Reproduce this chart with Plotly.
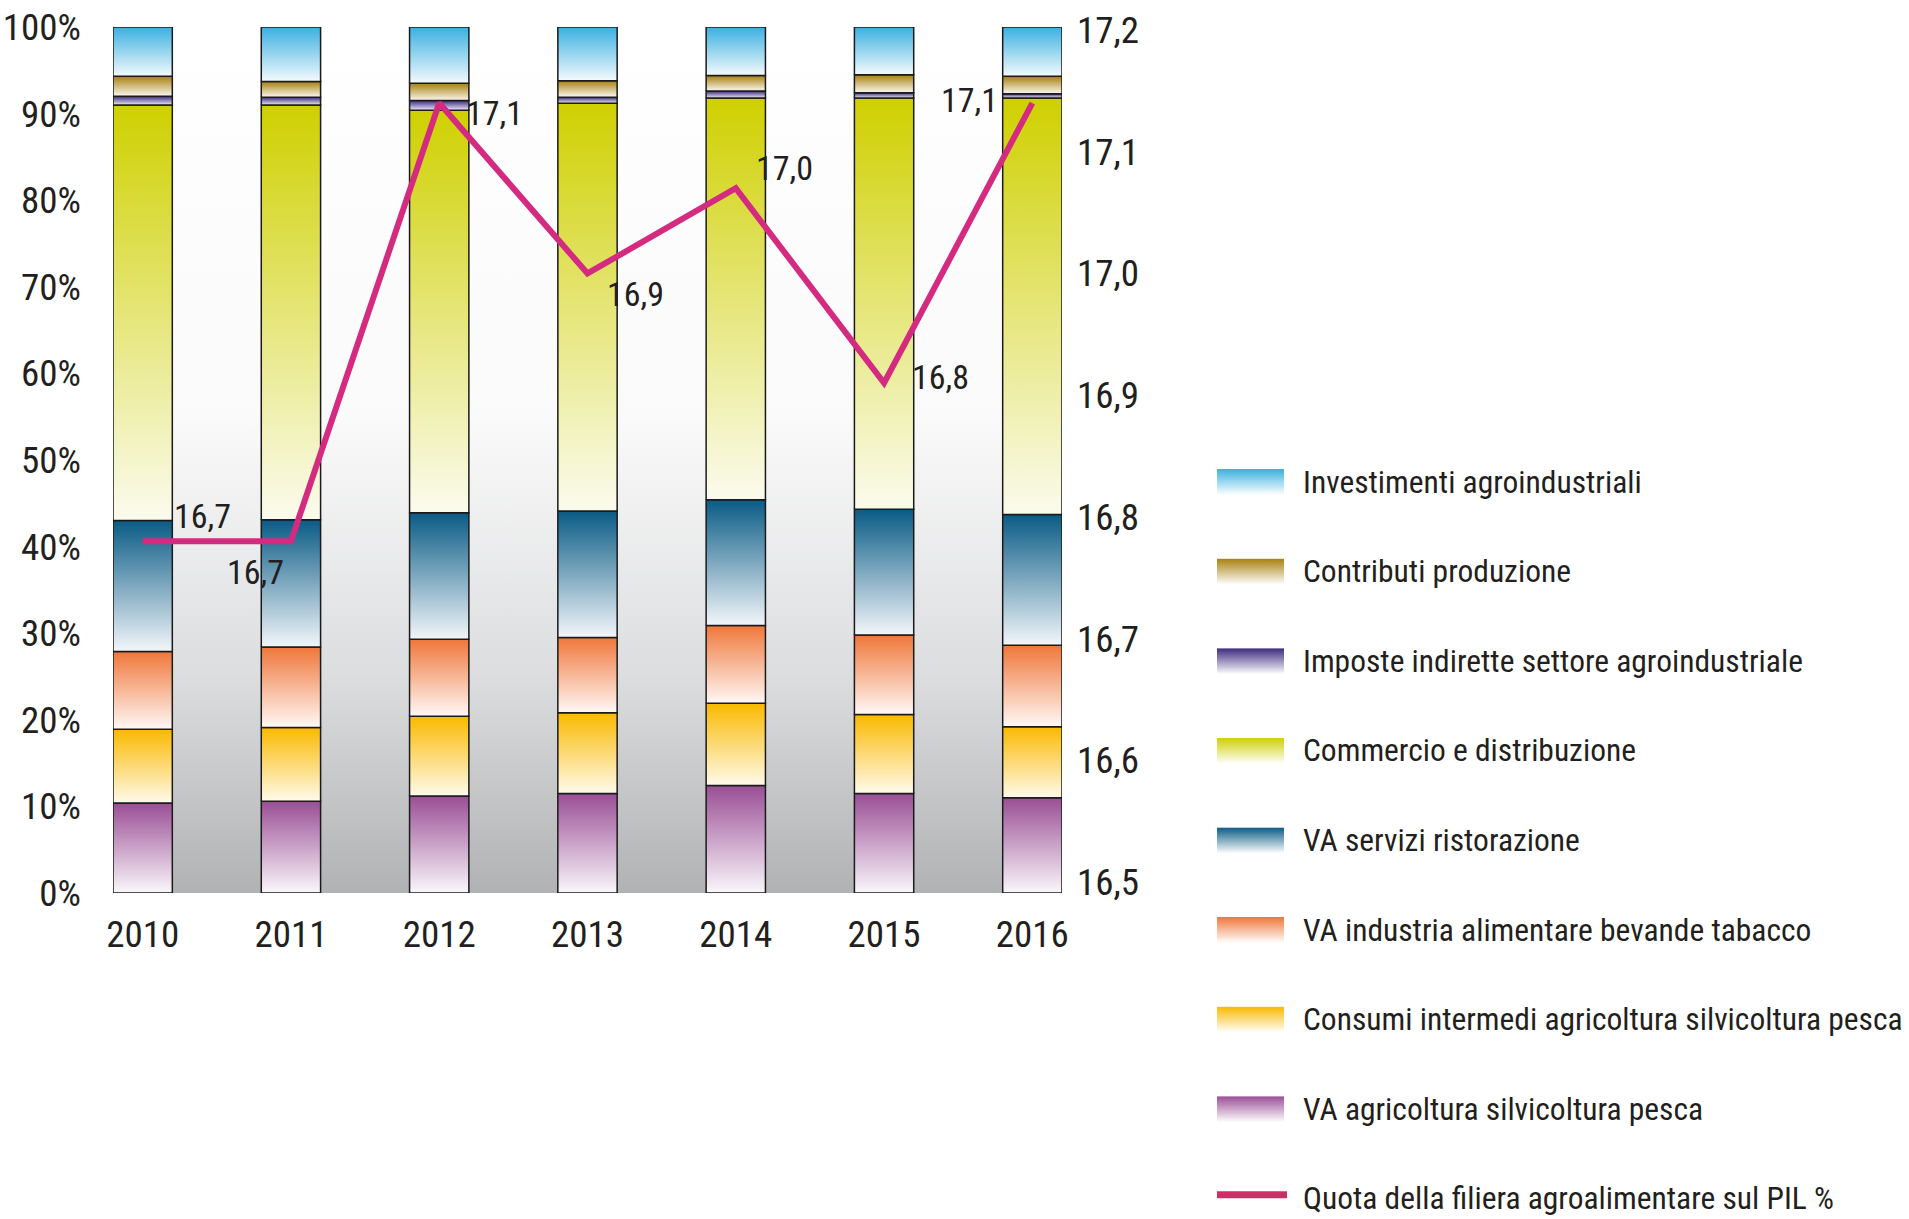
"""Filiera agroalimentare: composizione (%) e quota sul PIL."""

import base64

import plotly.graph_objects as go

years = ["2010", "2011", "2012", "2013", "2014", "2015", "2016"]

# stacked shares, bottom to top (% of total)
va_agricoltura = [10.4, 10.6, 11.2, 11.5, 12.4, 11.5, 11.0]
consumi_intermedi = [8.5, 8.5, 9.2, 9.3, 9.5, 9.1, 8.2]
va_industria = [9.0, 9.3, 8.9, 8.7, 9.0, 9.2, 9.4]
va_ristorazione = [15.1, 14.7, 14.6, 14.6, 14.5, 14.5, 15.1]
commercio = [48.0, 47.9, 46.5, 47.1, 46.4, 47.5, 48.1]
imposte = [1.0, 0.9, 1.1, 0.7, 0.8, 0.6, 0.5]
contributi = [2.3, 1.8, 2.0, 1.9, 1.8, 2.1, 2.0]
investimenti = [5.7, 6.3, 6.5, 6.2, 5.6, 5.5, 5.7]

# share of GDP (right axis) and the labels printed next to the line
quota_pil = [16.78, 16.78, 17.14, 17.00, 17.07, 16.91, 17.14]
quota_labels = ["16,7", "16,7", "17,1", "16,9", "17,0", "16,8", "17,1"]
quota_name = "Quota della filiera agroalimentare sul PIL %"

left_ticks = list(range(0, 101, 10))
right_ticks = [16.5, 16.6, 16.7, 16.8, 16.9, 17.0, 17.1, 17.2]

series = [
    ("VA agricoltura silvicoltura pesca", va_agricoltura, "#9a4e95", "#faf7fb"),
    ("Consumi intermedi agricoltura silvicoltura pesca", consumi_intermedi, "#fab900", "#fffaeb"),
    ("VA industria alimentare bevande tabacco", va_industria, "#ef773a", "#fff8f6"),
    ("VA servizi ristorazione", va_ristorazione, "#0a5b85", "#f2f6fa"),
    ("Commercio e distribuzione", commercio, "#cfd000", "#fbfbee"),
    ("Imposte indirette settore agroindustriale", imposte, "#3b2a7f", "#ece8f4"),
    ("Contributi produzione", contributi, "#a7800f", "#fbf8f0"),
    ("Investimenti agroindustriali", investimenti, "#3ab0e0", "#f4fafd"),
]

W, H = 1909, 1219
FONT = "Liberation Sans Narrow, Roboto Condensed, Arial Narrow, DejaVu Sans, sans-serif"
TEXT = "#231f20"
LINE = "#d42a80"
BAR_W = 0.4
label_shift = [(60, 25), (-35, -31), (55, -10), (48, -21), (49, 20), (56, 6), (-63, 3)]


def gradient_uri(stops):
    """Vertical gradient (top -> bottom) as an SVG data uri."""
    st = "".join(f'<stop offset="{o}" stop-color="{c}"/>' for o, c in stops)
    svg = (
        '<svg xmlns="http://www.w3.org/2000/svg" width="100" height="100" preserveAspectRatio="none">'
        f'<defs><linearGradient id="g" x1="0" y1="0" x2="0" y2="1">{st}</linearGradient></defs>'
        '<rect width="100" height="100" fill="url(#g)"/></svg>'
    )
    return "data:image/svg+xml;base64," + base64.b64encode(svg.encode()).decode()


fig = go.Figure()

n = len(years)
base = [0.0] * n
for name, values, top_col, low_col in series:
    for j, v in enumerate(values):
        x0, x1 = j - BAR_W / 2, j + BAR_W / 2
        y0, y1 = base[j], base[j] + v
        fig.add_trace(go.Scatter(
            x=[x0, x1, x1, x0, x0],
            y=[y0, y0, y1, y1, y0],
            mode="lines",
            fill="toself",
            fillgradient=dict(type="vertical", colorscale=[[0, low_col], [1, top_col]]),
            line=dict(color="#1a1a1a", width=1.5),
            name=name,
            showlegend=False,
            hoverinfo="skip",
        ))
        base[j] = y1

fig.add_trace(go.Scatter(
    x=list(range(n)),
    y=quota_pil,
    yaxis="y2",
    mode="lines",
    line=dict(color=LINE, width=6),
    name=quota_name,
    showlegend=False,
    hoverinfo="skip",
))

for j, (lab, (dx, dy)) in enumerate(zip(quota_labels, label_shift)):
    fig.add_annotation(
        x=j, y=quota_pil[j], xref="x", yref="y2", text=lab, showarrow=False,
        xshift=dx, yshift=dy, font=dict(family=FONT, size=34, color=TEXT),
    )

# plot-area background: white on top fading to grey at the base
fig.add_layout_image(
    source=gradient_uri([(0, "#ffffff"), (0.45, "#fafafa"), (0.75, "#dcdddf"), (1, "#b1b2b4")]),
    xref="x", yref="y", x=-BAR_W / 2, y=100,
    sizex=n - 1 + BAR_W, sizey=100, sizing="stretch", layer="below",
)

# legend drawn by hand: gradient swatches + labels, one row every ~90 px
legend_rows = [(s[0], s[2]) for s in reversed(series)]
row_y0, row_step = 482, 89.6
for k, (name, col) in enumerate(legend_rows):
    cy = row_y0 + k * row_step
    fig.add_layout_image(
        source=gradient_uri([(0, col), (1, "#ffffff")]),
        xref="paper", yref="paper", x=1217 / W, y=1 - (cy - 13) / H,
        sizex=67 / W, sizey=26 / H, xanchor="left", yanchor="top",
        sizing="stretch", layer="above",
    )
    fig.add_annotation(
        xref="paper", yref="paper", x=1301 / W, y=1 - cy / H, text=name,
        showarrow=False, xanchor="left", yanchor="middle",
        font=dict(family=FONT, size=31.5, color=TEXT),
    )
cy = row_y0 + len(legend_rows) * row_step
fig.add_shape(
    type="line", xref="paper", yref="paper",
    x0=1217 / W, x1=1287 / W, y0=1 - (cy - 4) / H, y1=1 - (cy - 4) / H,
    line=dict(color="#cc2f66", width=7),
)
fig.add_annotation(
    xref="paper", yref="paper", x=1301 / W, y=1 - cy / H, text=quota_name,
    showarrow=False, xanchor="left", yanchor="middle",
    font=dict(family=FONT, size=31.5, color=TEXT),
)

fig.update_layout(
    width=W,
    height=H,
    margin=dict(l=0, r=0, t=0, b=0, autoexpand=False),
    paper_bgcolor="white",
    plot_bgcolor="white",
    separators=", ",
    font=dict(family=FONT, size=37, color=TEXT),
    showlegend=False,
    xaxis=dict(
        domain=[113 / W, 1062 / W],
        range=[-BAR_W / 2, n - 1 + BAR_W / 2],
        tickvals=list(range(n)), ticktext=years,
        showgrid=False, zeroline=False, showline=False, ticks="",
        ticklabelstandoff=16,
    ),
    yaxis=dict(
        domain=[(H - 893) / H, (H - 27) / H],
        range=[0, 100], tickvals=left_ticks, ticktext=[f"{v}%" for v in left_ticks],
        showgrid=False, zeroline=False, showline=False, ticks="",
        ticklabelstandoff=31,
    ),
    yaxis2=dict(
        overlaying="y", side="right", range=[16.491, 17.2025],
        tickvals=right_ticks, ticktext=[f"{v:.1f}".replace(".", ",") for v in right_ticks],
        showgrid=False, zeroline=False, showline=False, ticks="",
        ticklabelstandoff=14,
    ),
)

# the page body has a default 8px margin; drop it so the figure fills the window
fig.write_html(
    "out.html",
    config={"displayModeBar": False},
    post_script="document.body.style.margin='0px';",
)
